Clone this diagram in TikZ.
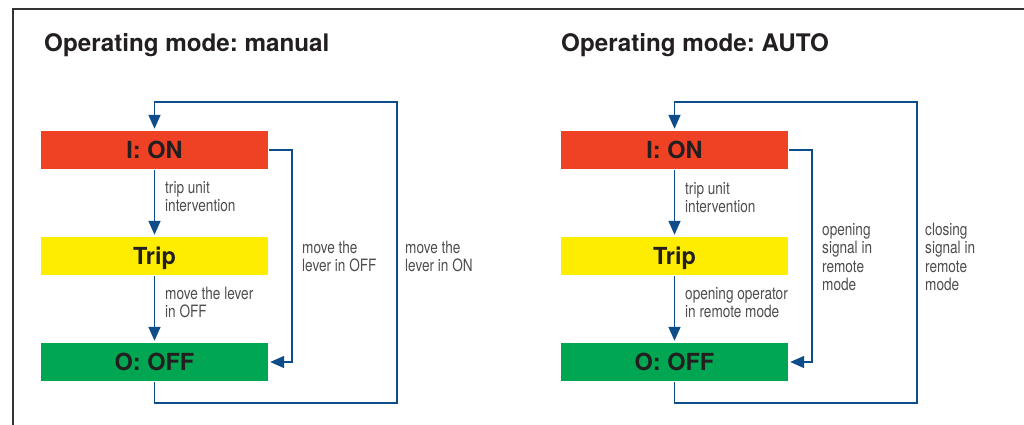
\documentclass[tikz,border=0pt]{standalone}
\usepackage{fontspec}
\setmainfont{TeX Gyre Heros}
\newfontfamily\condfont[FakeStretch=0.8]{TeX Gyre Heros}
\usetikzlibrary{arrows.meta}
\definecolor{onred}{HTML}{EF4123}
\definecolor{tripyellow}{HTML}{FFED00}
\definecolor{offgreen}{HTML}{00A651}
\definecolor{titletext}{HTML}{231F20}
\definecolor{labelgray}{HTML}{4D4D4F}
\definecolor{lineblue}{HTML}{0F4C8A}
\definecolor{framegray}{HTML}{333333}
\tikzset{
  statebox/.style={minimum width=227pt, minimum height=38pt, inner sep=0pt, draw=none,
    font=\bfseries\fontsize{23.5}{28}\selectfont, text=titletext, text height=17pt, text depth=0pt},
  titletxt/.style={anchor=base west, inner sep=0pt, font=\bfseries\fontsize{24.2}{29}\selectfont, text=titletext},
  lbl/.style={anchor=base west, inner sep=0pt, align=left, text=labelgray,
    font=\condfont\fontsize{17}{18.5}\selectfont},
  conn/.style={draw=lineblue, line width=1.6pt, line join=miter},
  arr/.style={conn, -{Triangle[length=14pt,width=12pt]}, shorten >=2pt, shorten <=1pt}
}
\begin{document}
\frenchspacing
\begin{tikzpicture}[x=1pt,y=-1pt]
\useasboundingbox (0,0) rectangle (1024,425);
% frame
\draw[framegray, line width=1.5pt] (13,425) -- (13,9) -- (1024,9);

% ---------- manual ----------
\node[titletxt] (tA) at (44,52) {Operating mode: manual};
\node[statebox, fill=onred] (onA) at (154.5,150) {I: ON};
\node[statebox, fill=tripyellow] (tripA) at (154.5,256) {Trip};
\node[statebox, fill=offgreen] (offA) at (154.5,362) {O: OFF};
\coordinate (sA) at (292,362);
\coordinate (loA) at (397,403);
\coordinate (hiA) at (397,102);
\draw[arr] (onA.south) -- (tripA.north);
\draw[arr] (tripA.south) -- (offA.north);
\draw[arr] (onA.east) -| (sA) -- (offA.east);
\draw[arr] (offA.south) |- (loA) -- (hiA) -| (onA.north);
\node[lbl] (lA1) at (165,211.5) {trip unit\\intervention};
\node[lbl] (lA2) at (165,317.5) {move the lever\\in OFF};
\node[lbl] (lA3) at (302,271.5) {move the\\lever in OFF};
\node[lbl] (lA4) at (405,271.5) {move the\\lever in ON};

% ---------- AUTO ----------
\node[titletxt] (tB) at (561,52) {Operating mode: AUTO};
\node[statebox, fill=onred] (onB) at (674.5,150) {I: ON};
\node[statebox, fill=tripyellow] (tripB) at (674.5,256) {Trip};
\node[statebox, fill=offgreen] (offB) at (674.5,362) {O: OFF};
\coordinate (sB) at (812,362);
\coordinate (loB) at (917,403);
\coordinate (hiB) at (917,102);
\draw[arr] (onB.south) -- (tripB.north);
\draw[arr] (tripB.south) -- (offB.north);
\draw[arr] (onB.east) -| (sB) -- (offB.east);
\draw[arr] (offB.south) |- (loB) -- (hiB) -| (onB.north);
\node[lbl] (lB1) at (685,212.5) {trip unit\\intervention};
\node[lbl] (lB2) at (685,317.5) {opening operator\\in remote mode};
\node[lbl] (lB3) at (822,290.5) {opening\\signal in\\remote\\mode};
\node[lbl] (lB4) at (925,290.5) {closing\\signal in\\remote\\mode};
\end{tikzpicture}
\end{document}
